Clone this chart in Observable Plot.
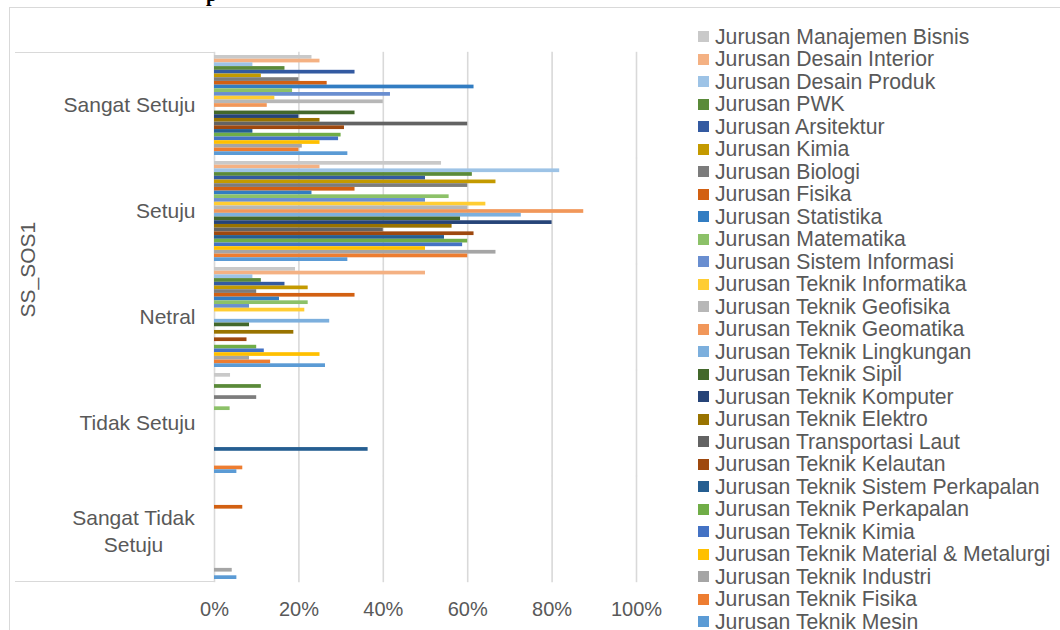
<!DOCTYPE html>
<html>
<head>
<meta charset="utf-8">
<script src="https://cdn.jsdelivr.net/npm/d3@7"></script>
<script src="https://cdn.jsdelivr.net/npm/@observablehq/plot@0.6"></script>
<style>
  body { margin: 0; background: #fff; }
  #wrap { position: relative; width: 1060px; height: 630px; overflow: hidden; font-family: "Liberation Sans", Arial, sans-serif; }
  #frame { position: absolute; left: 9px; top: 7px; width: 1200px; height: 800px; border: 1px solid #D9D9D9; }
  #title { position: absolute; left: 206px; top: -16px; font: bold 20px "Liberation Serif", serif; line-height: 20px; color: #000; white-space: nowrap; }
  .catline { position: absolute; left: 15px; width: 199px; height: 0; border-top: 1.5px solid #D9D9D9; }
  #chart { position: absolute; left: 0; top: 0; }
  #legend { position: absolute; left: 698px; top: 25.5px; }
  .li { height: 22.5px; display: flex; align-items: center; font-size: 21.2px; color: #595959; white-space: nowrap; }
  .sw { width: 11px; height: 11px; margin-right: 6px; flex: none; }
</style>
</head>
<body>
<div id="wrap">
  <div id="frame"></div>
  <div id="title">p</div>
  <div class="catline" style="top:52px"></div>
  <div class="catline" style="top:581px"></div>
  <div id="chart"></div>
  <div id="legend"></div>
</div>
<script>
// Categories (top to bottom)
const categories = ["Sangat Setuju", "Setuju", "Netral", "Tidak Setuju", "Sangat Tidak Setuju"];

// Series (legend order, also top-to-bottom order within each group)
const jurusan = [
  "Jurusan Manajemen Bisnis", "Jurusan Desain Interior", "Jurusan Desain Produk", "Jurusan PWK",
  "Jurusan Arsitektur", "Jurusan Kimia", "Jurusan Biologi", "Jurusan Fisika", "Jurusan Statistika",
  "Jurusan Matematika", "Jurusan Sistem Informasi", "Jurusan Teknik Informatika", "Jurusan Teknik Geofisika",
  "Jurusan Teknik Geomatika", "Jurusan Teknik Lingkungan", "Jurusan Teknik Sipil", "Jurusan Teknik Komputer",
  "Jurusan Teknik Elektro", "Jurusan Transportasi Laut", "Jurusan Teknik Kelautan",
  "Jurusan Teknik Sistem Perkapalan", "Jurusan Teknik Perkapalan", "Jurusan Teknik Kimia",
  "Jurusan Teknik Material & Metalurgi", "Jurusan Teknik Industri", "Jurusan Teknik Fisika", "Jurusan Teknik Mesin"
];

// Values in percent, one array per category, in jurusan order
const sangatSetuju      = [23.1, 25, 9.1, 16.7, 33.3, 11.1, 20, 26.7, 61.5, 18.5, 41.7, 14.3, 40, 12.5, 0, 33.3, 20, 25, 60, 30.8, 9.1, 30, 29.4, 25, 20.8, 20, 31.6];
const setuju            = [53.8, 25, 81.8, 61.1, 50, 66.7, 60, 33.3, 23.1, 55.6, 50, 64.3, 60, 87.5, 72.7, 58.3, 80, 56.3, 40, 61.5, 54.5, 60, 58.8, 50, 66.7, 60, 31.6];
const netral            = [19.2, 50, 9.1, 11.1, 16.7, 22.2, 10, 33.3, 15.4, 22.2, 8.3, 21.4, 0, 0, 27.3, 8.3, 0, 18.8, 0, 7.7, 0, 10, 11.8, 25, 8.3, 13.3, 26.3];
const tidakSetuju       = [3.8, 0, 0, 11.1, 0, 0, 10, 0, 0, 3.7, 0, 0, 0, 0, 0, 0, 0, 0, 0, 0, 36.4, 0, 0, 0, 0, 6.7, 5.3];
const sangatTidakSetuju = [0, 0, 0, 0, 0, 0, 0, 6.7, 0, 0, 0, 0, 0, 0, 0, 0, 0, 0, 0, 0, 0, 0, 0, 0, 4.2, 0, 5.3];

const xTicks = [0, 20, 40, 60, 80, 100];
const axisTitle = "SS_SOS1";

const colors = [
  "#C9C9C9", "#F4B183", "#9DC3E6", "#5A8A39", "#335AA1", "#C49A00", "#7C7C7C", "#D26012", "#327DC2",
  "#8CC168", "#698ED0", "#FFCD33", "#B7B7B7", "#F1975A", "#7CAFDD", "#43682B", "#264478", "#997300",
  "#636363", "#9E480E", "#255E91", "#70AD47", "#4472C4", "#FFC000", "#A5A5A5", "#ED7D31", "#5B9BD5"
];

const valueSets = [sangatSetuju, setuju, netral, tidakSetuju, sangatTidakSetuju];
const data = [];
categories.forEach((c, i) => jurusan.forEach((j, k) => data.push({kategori: c, jurusan: j, nilai: valueSets[i][k]})));

const oneLine = categories.filter(c => c !== "Sangat Tidak Setuju");
const twoLine = categories.filter(c => c === "Sangat Tidak Setuju");

const textColor = "#595959";
const chart = Plot.plot({
  width: 1060,
  height: 630,
  marginLeft: 214,
  marginRight: 424,
  marginTop: 52,
  marginBottom: 48,
  style: {background: "transparent", fontFamily: "'Liberation Sans', Arial, sans-serif", fontSize: "20px", color: textColor, overflow: "visible"},
  x: {domain: [0, 100]},
  y: {domain: jurusan, padding: 0, round: false, axis: null},
  fy: {domain: categories, paddingInner: 0.0566, paddingOuter: 0.0283, round: false, axis: null},
  color: {domain: jurusan, range: colors},
  marks: [
    Plot.gridX(xTicks, {stroke: "#D9D9D9", strokeOpacity: 1, strokeWidth: 1.6, insetTop: -3.2, insetBottom: -3.2}),
    Plot.barX(data, {x: "nilai", y: "jurusan", fy: "kategori", fill: "jurusan"}),
    Plot.axisX(xTicks, {tickSize: 0, tickPadding: 22, tickFormat: d => d + "%", fontSize: 20, fill: textColor, label: null}),
    Plot.text(oneLine, {fy: d => d, text: d => d, frameAnchor: "left", textAnchor: "end", dx: -19, fontSize: 21, fill: textColor}),
    Plot.text(twoLine, {fy: d => d, text: d => d.replace("Tidak ", "Tidak\n"), frameAnchor: "left", textAnchor: "middle", dx: -81, lineHeight: 1.3, fontSize: 21, fill: textColor}),
    Plot.text([axisTitle], {frameAnchor: "left", rotate: -90, dx: -186, fontSize: 21, fill: textColor, facet: "super"})
  ]
});
document.getElementById("chart").appendChild(chart);

// Legend
const legend = document.getElementById("legend");
jurusan.forEach((j, k) => {
  const row = document.createElement("div");
  row.className = "li";
  const sw = document.createElement("span");
  sw.className = "sw";
  sw.style.background = colors[k];
  const t = document.createElement("span");
  t.textContent = j;
  row.appendChild(sw);
  row.appendChild(t);
  legend.appendChild(row);
});
</script>
</body>
</html>
